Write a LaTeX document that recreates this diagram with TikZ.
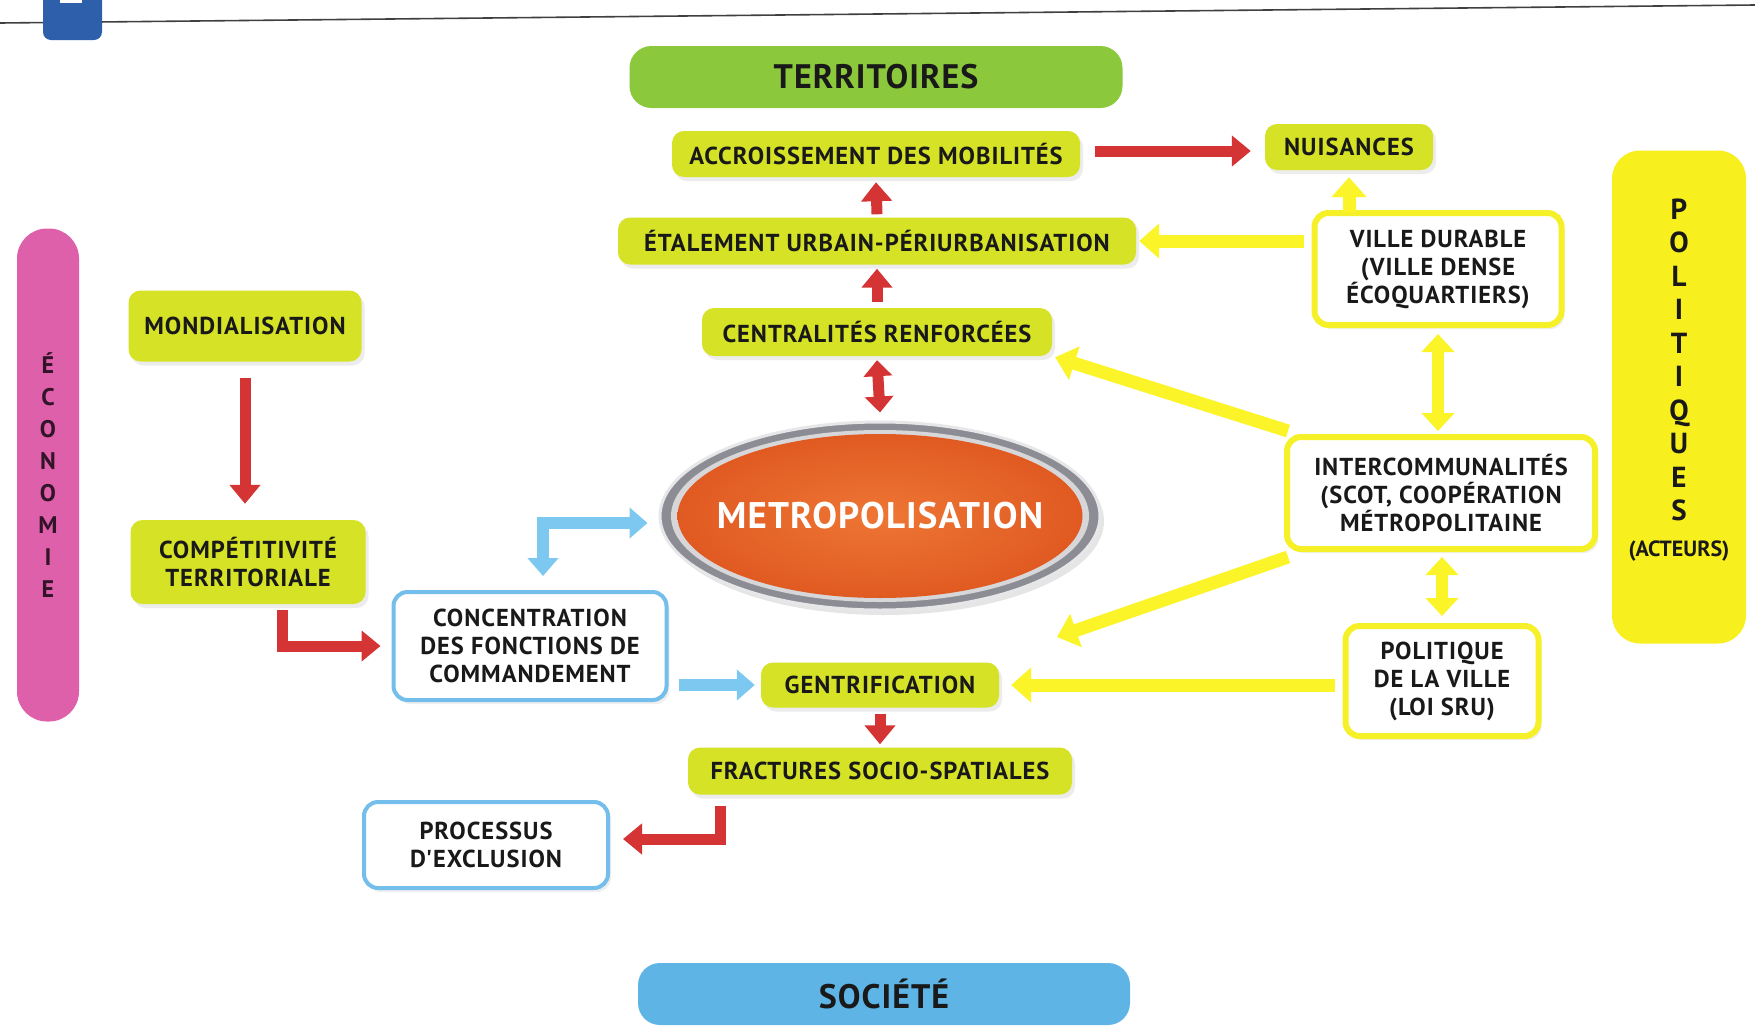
\documentclass[tikz,border=0pt]{standalone}
\usepackage{fontspec}
\setmainfont{PT Sans}
\newfontfamily\lblfont[LetterSpace=4]{PT Sans}
\newfontfamily\bigfont[LetterSpace=3]{PT Sans}
\usetikzlibrary{arrows.meta,shapes.geometric,shadows}
\definecolor{lime}{RGB}{214,226,38}
\definecolor{terrc}{RGB}{140,200,60}
\definecolor{socc}{RGB}{95,180,230}
\definecolor{ecoc}{RGB}{222,95,170}
\definecolor{polc}{RGB}{248,240,30}
\definecolor{ybord}{RGB}{246,240,40}
\definecolor{bbord}{RGB}{115,190,235}
\definecolor{redar}{RGB}{212,52,52}
\definecolor{yelar}{RGB}{250,244,40}
\definecolor{bluar}{RGB}{125,200,240}
\definecolor{txt}{RGB}{25,25,25}
\definecolor{tabc}{RGB}{45,95,170}
\definecolor{ringc}{RGB}{140,140,148}
\definecolor{ringl}{RGB}{215,215,218}
\definecolor{orin}{RGB}{238,118,52}
\definecolor{orout}{RGB}{224,90,34}
\tikzset{
  x=1pt, y=-1pt,
  lbl/.style={text=txt, font=\lblfont\bfseries\fontsize{24.5}{28}\selectfont, align=center, inner sep=0pt},
  limebox/.style={lbl, fill=lime, rounded corners=12pt,
    drop shadow={opacity=0.15, shadow xshift=3pt, shadow yshift=-4pt}},
  ybox/.style={lbl, draw=ybord, line width=6pt, fill=white, rounded corners=14pt,
    drop shadow={opacity=0.12, shadow xshift=3pt, shadow yshift=-4pt}},
  bbox/.style={lbl, draw=bbord, line width=4pt, fill=white, rounded corners=14pt,
    drop shadow={opacity=0.12, shadow xshift=3pt, shadow yshift=-4pt}},
  band/.style={text=txt, inner sep=0pt, align=center},
  redarrow/.style={draw=redar, line width=11pt, line join=miter, -{Triangle[length=19pt,width=30pt]}},
  redboth/.style={draw=redar, line width=11pt, {Triangle[length=16pt,width=28pt]}-{Triangle[length=16pt,width=28pt]}},
  yelarrow/.style={draw=yelar, line width=13pt, -{Triangle[length=20pt,width=34pt]}},
  yelboth/.style={draw=yelar, line width=12pt, {Triangle[length=18pt,width=32pt]}-{Triangle[length=18pt,width=32pt]}},
  bluarrow/.style={draw=bluar, line width=12pt, line join=miter, -{Triangle[length=18pt,width=30pt]}},
  bluboth/.style={draw=bluar, line width=12pt, line join=miter, {Triangle[length=18pt,width=30pt]}-{Triangle[length=18pt,width=30pt]}},
}
\begin{document}
\begin{tikzpicture}
\useasboundingbox (0,0) rectangle (1755,1026);
\fill[white] (0,0) rectangle (1755,1026);
% header
\coordinate (hl) at (0,23);
\coordinate (hr) at (1755,5);
\draw[line width=1.6pt, black!75] (hl) -- (hr);
\fill[tabc, rounded corners=8pt] (43,-12) rectangle (102,40);
\fill[white] (60,-2) rectangle (82,3);

% bands
\node[band, fill=terrc, minimum width=493pt, minimum height=62pt, rounded corners=22pt,
  font=\bigfont\bfseries\fontsize{34}{38}\selectfont] (terr) at (876,77) {TERRITOIRES};
\node[band, fill=socc, minimum width=492pt, minimum height=62pt, rounded corners=22pt,
  font=\bigfont\bfseries\fontsize{34}{38}\selectfont] (soc) at (884,994) {SOCIÉTÉ};
\node[band, fill=ecoc, minimum width=62pt, minimum height=493pt, rounded corners=30pt,
  font=\bfseries\fontsize{24}{32}\selectfont, text={rgb,255:red,50;green,20;blue,40}] (eco) at (48,475)
  {É\\C\\O\\N\\O\\M\\I\\E};
\node[band, fill=polc, minimum width=134pt, minimum height=493pt, rounded corners=28pt] (pol) at (1679,397) {};
\node[band, font=\bfseries\fontsize{29}{33.5}\selectfont] (polt) at (1679,360)
  {P\\O\\L\\I\\T\\I\\Q\\U\\E\\S};
\node[band, font=\bfseries\fontsize{22}{26}\selectfont] (act) at (1679,551) {(ACTEURS)};

% metropolisation
\node[ellipse, draw=ringl!60, line width=3pt, fill=ringc, minimum width=440pt, minimum height=188pt,
  inner sep=0pt, drop shadow={opacity=0.2, shadow xshift=4pt, shadow yshift=-5pt}] (metro) at (880,516) {};
\node[ellipse, fill=ringl, minimum width=418pt, minimum height=172pt, inner sep=0pt] (metrol) at (metro) {};
\node[ellipse, inner color=orin, outer color=orout, minimum width=405pt, minimum height=164pt, inner sep=0pt] (metroin) at (metro) {};
\node[text=white, inner sep=0pt, font=\bigfont\bfseries\fontsize{37}{42}\selectfont] (metrot) at (metro) {METROPOLISATION};

% lime boxes
\node[limebox, minimum width=408pt, minimum height=46pt] (accr) at (876,154) {ACCROISSEMENT DES MOBILITÉS};
\node[limebox, minimum width=168pt, minimum height=46pt] (nuis) at (1349,147) {NUISANCES};
\node[limebox, minimum width=518pt, minimum height=47pt] (etal) at (877,241) {ÉTALEMENT URBAIN-PÉRIURBANISATION};
\node[limebox, minimum width=350pt, minimum height=48pt] (cent) at (877,332) {CENTRALITÉS RENFORCÉES};
\node[limebox, minimum width=233pt, minimum height=71pt] (mond) at (245,326) {MONDIALISATION};
\node[limebox, minimum width=235pt, minimum height=84pt] (comp) at (248,562) {COMPÉTITIVITÉ\\TERRITORIALE};
\node[limebox, minimum width=238pt, minimum height=45pt] (gent) at (880,685) {GENTRIFICATION};
\node[limebox, minimum width=384pt, minimum height=47pt] (frac) at (880,771) {FRACTURES SOCIO-SPATIALES};

% blue boxes
\node[bbox, minimum width=273pt, minimum height=108pt] (conc) at (530,646) {CONCENTRATION\\DES FONCTIONS DE\\COMMANDEMENT};
\node[bbox, minimum width=244pt, minimum height=86pt] (proc) at (486,845) {PROCESSUS\\D'EXCLUSION};

% yellow boxes
\node[ybox, minimum width=247pt, minimum height=112pt] (ville) at (1438,269) {VILLE DURABLE\\(VILLE DENSE\\ÉCOQUARTIERS)};
\node[ybox, minimum width=308pt, minimum height=112pt] (inter) at (1441,493) {INTERCOMMUNALITÉS\\(SCOT, COOPÉRATION\\MÉTROPOLITAINE};
\node[ybox, minimum width=193pt, minimum height=110pt] (polv) at (1442,681) {POLITIQUE\\DE LA VILLE\\(LOI SRU)};

% red arrows
\draw[redarrow] ([xshift=15pt,yshift=3pt]accr.east) -- ([xshift=-14pt,yshift=3pt]accr.east -| nuis.west);
\draw[redarrow] ([yshift=3pt]etal.north) -- ([yshift=-5pt]accr.south);
\draw[redarrow] ([yshift=6pt]cent.north) -- ([yshift=-4pt]etal.south);
\draw[redboth] ([yshift=-4pt]cent.south) -- ([yshift=8pt]metro.north);
\draw[redarrow] ([yshift=-16pt]mond.south) -- ([yshift=16pt]mond.south |- comp.north);
\draw[redarrow] ([xshift=34pt,yshift=-6pt]comp.south) |- ([xshift=-11pt]conc.west);
\draw[redarrow] ([yshift=-6pt]gent.south) -- ([yshift=3pt]frac.north);
\draw[redarrow] ([xshift=-160pt,yshift=-11pt]frac.south) |- ([xshift=13pt,yshift=6pt]proc.east);

% blue arrows
\draw[bluboth] ([xshift=13pt,yshift=14pt]conc.north) |- ([xshift=-11pt,yshift=-7pt]metro.west);
\draw[bluarrow] ([xshift=10pt]conc.east |- gent.west) -- ([xshift=-6pt]gent.west);

% yellow arrows
\coordinate (tip2) at (1057,637);
\draw[yelarrow] ([xshift=-8pt]ville.west |- etal.east) -- ([xshift=3pt]etal.east);
\draw[yelarrow] ([yshift=-2pt]nuis.south |- ville.north) -- ([yshift=-7pt]nuis.south);
\draw[yelboth] ([yshift=-6pt]ville.south) -- ([yshift=3pt]ville.south |- inter.north);
\draw[yelarrow] ([xshift=4pt,yshift=3pt]inter.north west) -- ([xshift=3pt,yshift=-1pt]cent.south east);
\draw[yelarrow] ([xshift=4pt,yshift=-5pt]inter.south west) -- (tip2);
\draw[yelboth] ([xshift=1pt,yshift=-5pt]inter.south) -- ([xshift=1pt,yshift=7pt]inter.south |- polv.north);
\draw[yelarrow] ([xshift=-8pt]polv.west |- gent.east) -- ([xshift=12pt]gent.east);
\end{tikzpicture}
\end{document}
